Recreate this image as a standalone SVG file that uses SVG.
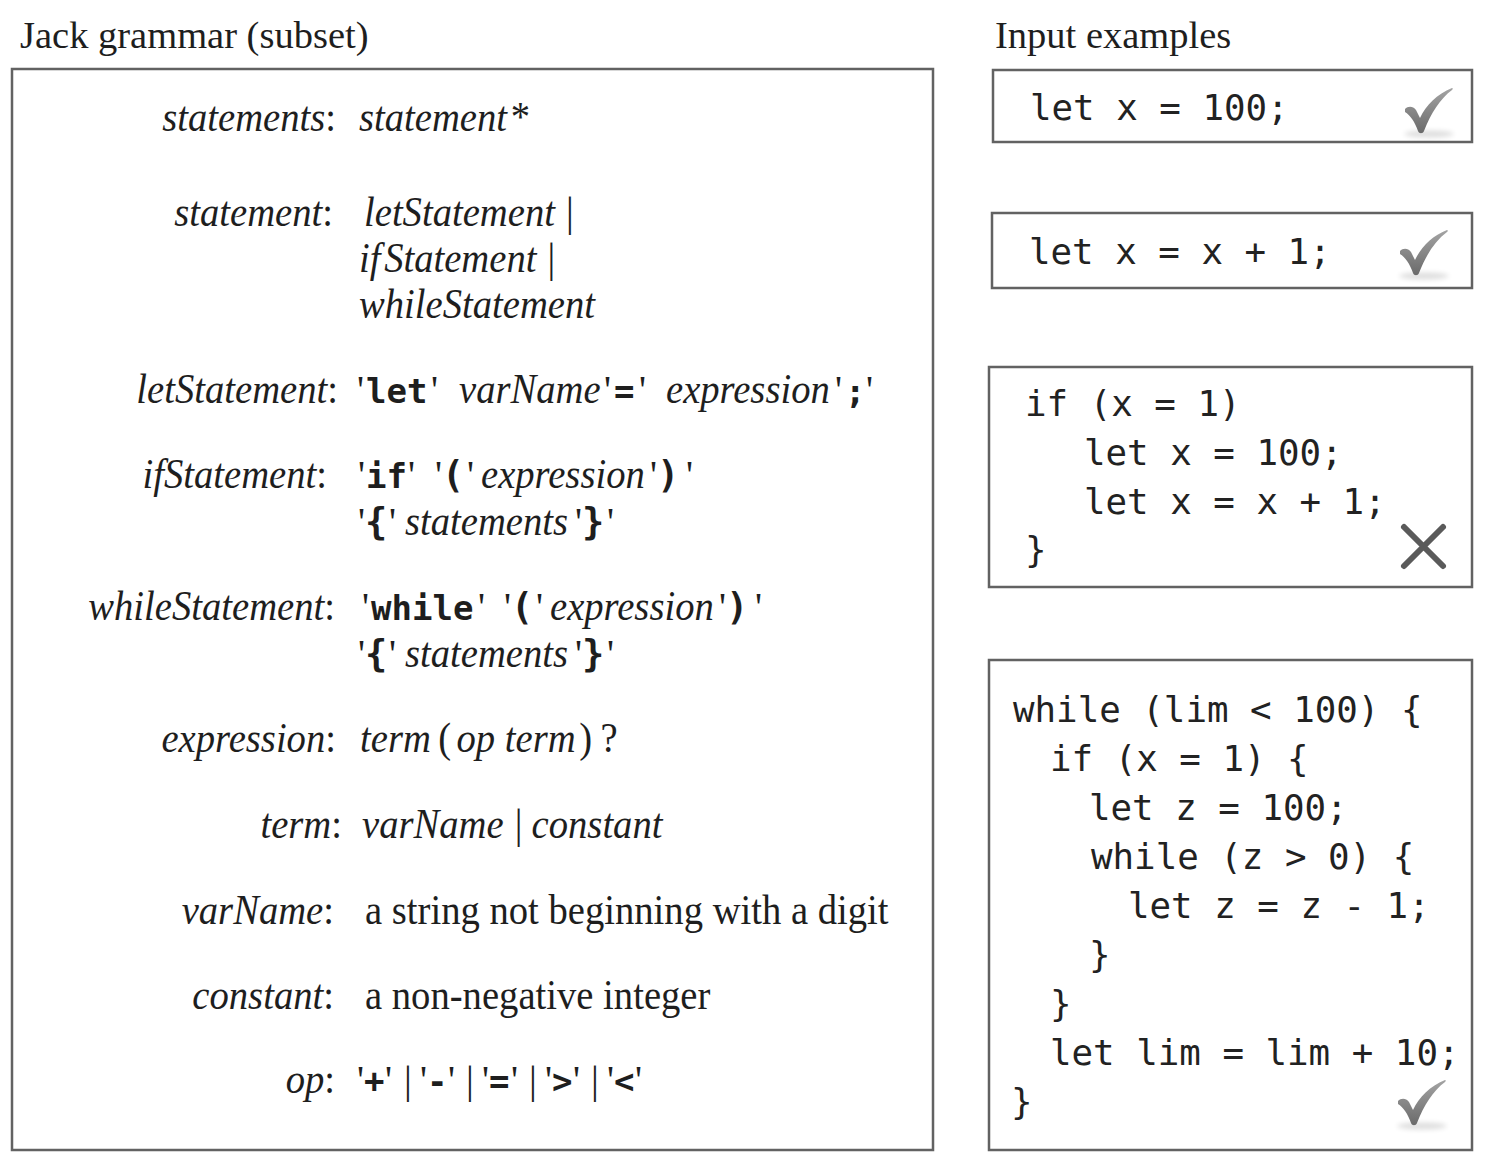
<svg xmlns="http://www.w3.org/2000/svg" width="1492" height="1168" viewBox="0 0 1492 1168">
<style>
.box{fill:#fff;stroke:#626262;stroke-width:2.5}
.hd{font-family:"Liberation Serif",serif;font-size:38.5px;fill:#1e1e1e}
.g{font-family:"Liberation Serif",serif;font-size:42px;fill:#1e1e1e}
.i{font-style:italic}
.q{font-family:"Liberation Serif",serif;font-size:39px;font-weight:normal}
.t{fill:#1e1e1e}
.k{font-family:"DejaVu Sans Mono",monospace;font-weight:bold;font-size:34px}
.p{font-family:"DejaVu Sans Mono",monospace;font-weight:bold;font-size:37px}
.c{font-family:"DejaVu Sans Mono",monospace;font-size:35.8px;fill:#222}
.chk{fill:url(#cg)}
</style>
<defs>
<linearGradient id="cg" x1="0" y1="0" x2="0" y2="1">
<stop offset="0" stop-color="#a4a4a4"/>
<stop offset="1" stop-color="#6a6a6a"/>
</linearGradient>
<filter id="bl" x="-30%" y="-200%" width="160%" height="500%"><feGaussianBlur stdDeviation="2.5"/></filter>
<g id="check">
<ellipse cx="24" cy="46" rx="25" ry="3.5" fill="#000" opacity="0.13" filter="url(#bl)"/>
<path class="chk" d="M0,21 C3,18 8,18 11,22 L15,30 C21,17 32,6 47,0 C48,0 48,1 47,2 C35,11 26,25 19,43 C18,46 14,46 13,43 C10,34 5,27 0,24 Z"/>
</g>
</defs>
<rect width="1492" height="1168" fill="#fff"/>

<text class="hd" x="20" y="48">Jack grammar (subset)</text>
<text class="hd" x="995" y="48">Input examples</text>

<g id="grammar">
<rect class="box" x="12" y="69" width="921" height="1081"/>

<g id="r-statements">
<text class="g" text-anchor="end" transform="translate(336 131) scale(.92 1)"><tspan class="i">statements</tspan>:</text>
<text class="g i" transform="translate(359 131) scale(.92 1)">statement<tspan font-style="normal" dx="4">*</tspan></text>
</g>

<g id="r-statement">
<text class="g" text-anchor="end" transform="translate(333 226) scale(.92 1)"><tspan class="i">statement</tspan>:</text>
<text class="g i" transform="translate(364 226) scale(.92 1)">letStatement<tspan font-style="normal" dx="12">|</tspan></text>
<text class="g i" transform="translate(359 272) scale(.92 1)">if<tspan dx="4">Statement</tspan><tspan font-style="normal" dx="12">|</tspan></text>
<text class="g i" transform="translate(359 318) scale(.92 1)">whileStatement</text>
</g>

<g id="r-let">
<text class="g" text-anchor="end" transform="translate(338 403) scale(.92 1)"><tspan class="i">letStatement</tspan>:</text>
<text class="t" y="403"><tspan class="q" x="357">'</tspan><tspan class="k" x="366">let</tspan><tspan class="q" x="431">'</tspan></text>
<text class="g i" transform="translate(459 403) scale(.92 1)">varName</text>
<text class="t" y="403"><tspan class="q" x="604">'</tspan><tspan class="k" x="614">=</tspan><tspan class="q" x="639">'</tspan></text>
<text class="g i" transform="translate(666 403) scale(.92 1)">expression</text>
<text class="t" y="403"><tspan class="q" x="835">'</tspan><tspan class="k" x="845">;</tspan><tspan class="q" x="866">'</tspan></text>
</g>

<g id="r-if">
<text class="g" text-anchor="end" transform="translate(327 488) scale(.92 1)"><tspan class="i">ifStatement</tspan>:</text>
<text class="t" y="488"><tspan class="q" x="358">'</tspan><tspan class="k" x="366">if</tspan><tspan class="q" x="408">'</tspan></text>
<text class="t" y="488"><tspan class="q" x="435">'</tspan><tspan class="p" x="442">(</tspan><tspan class="q" x="467">'</tspan></text>
<text class="g i" transform="translate(481 488) scale(.92 1)">expression</text>
<text class="t" y="488"><tspan class="q" x="650">'</tspan><tspan class="p" x="657">)</tspan><tspan class="q" x="686">'</tspan></text>
<text class="t" y="535"><tspan class="q" x="358">'</tspan><tspan class="p" x="365">{</tspan><tspan class="q" x="389">'</tspan></text>
<text class="g i" transform="translate(405 535) scale(.92 1)">statements</text>
<text class="t" y="535"><tspan class="q" x="575">'</tspan><tspan class="p" x="582">}</tspan><tspan class="q" x="607">'</tspan></text>
</g>

<g id="r-while">
<text class="g" text-anchor="end" transform="translate(335 620) scale(.92 1)"><tspan class="i">whileStatement</tspan>:</text>
<text class="t" y="620"><tspan class="q" x="362">'</tspan><tspan class="k" x="371">while</tspan><tspan class="q" x="478">'</tspan></text>
<text class="t" y="620"><tspan class="q" x="504">'</tspan><tspan class="p" x="511">(</tspan><tspan class="q" x="536">'</tspan></text>
<text class="g i" transform="translate(550 620) scale(.92 1)">expression</text>
<text class="t" y="620"><tspan class="q" x="719">'</tspan><tspan class="p" x="726">)</tspan><tspan class="q" x="755">'</tspan></text>
<text class="t" y="667"><tspan class="q" x="358">'</tspan><tspan class="p" x="365">{</tspan><tspan class="q" x="389">'</tspan></text>
<text class="g i" transform="translate(405 667) scale(.92 1)">statements</text>
<text class="t" y="667"><tspan class="q" x="575">'</tspan><tspan class="p" x="582">}</tspan><tspan class="q" x="607">'</tspan></text>
</g>

<g id="r-expression">
<text class="g" text-anchor="end" transform="translate(336 752) scale(.92 1)"><tspan class="i">expression</tspan>:</text>
<text class="g i" transform="translate(360 752) scale(.92 1)">term<tspan font-style="normal" dx="8">(</tspan><tspan dx="6">op term</tspan><tspan font-style="normal" dx="4">)</tspan><tspan font-style="normal" dx="9">?</tspan></text>
</g>

<g id="r-term">
<text class="g" text-anchor="end" transform="translate(342 838) scale(.92 1)"><tspan class="i">term</tspan>:</text>
<text class="g i" transform="translate(362 838) scale(.92 1)">varName<tspan font-style="normal" dx="12">|</tspan><tspan dx="10">constant</tspan></text>
</g>

<g id="r-varname">
<text class="g" text-anchor="end" transform="translate(334 924) scale(.92 1)"><tspan class="i">varName</tspan>:</text>
<text class="g" transform="translate(365 924) scale(.92 1)">a string not beginning with a digit</text>
</g>

<g id="r-constant">
<text class="g" text-anchor="end" transform="translate(334 1009) scale(.92 1)"><tspan class="i">constant</tspan>:</text>
<text class="g" transform="translate(365 1009) scale(.92 1)">a non-negative integer</text>
</g>

<g id="r-op">
<text class="g" text-anchor="end" transform="translate(335 1093) scale(.92 1)"><tspan class="i">op</tspan>:</text>
<text class="t" y="1093"><tspan class="q" x="357">'</tspan><tspan class="k" x="364">+</tspan><tspan class="q" x="385">'</tspan><tspan class="q" x="404">|</tspan><tspan class="q" x="420">'</tspan><tspan class="k" x="427">-</tspan><tspan class="q" x="448">'</tspan><tspan class="q" x="466">|</tspan><tspan class="q" x="482">'</tspan><tspan class="k" x="489">=</tspan><tspan class="q" x="511">'</tspan><tspan class="q" x="529">|</tspan><tspan class="q" x="545">'</tspan><tspan class="k" x="552">&gt;</tspan><tspan class="q" x="573">'</tspan><tspan class="q" x="591">|</tspan><tspan class="q" x="607">'</tspan><tspan class="k" x="614">&lt;</tspan><tspan class="q" x="635">'</tspan></text>
</g>
</g>

<g id="ex1">
<rect class="box" x="993" y="70" width="479" height="72"/>
<text class="c" x="1030" y="120">let x = 100;</text>
<use href="#check" x="1405" y="88"/>
</g>

<g id="ex2">
<rect class="box" x="992" y="213" width="480" height="75"/>
<text class="c" x="1029" y="264">let x = x + 1;</text>
<use href="#check" x="1400" y="230"/>
</g>

<g id="ex3">
<rect class="box" x="989" y="367" width="483" height="220"/>
<text class="c" x="1025" y="416">if (x = 1)</text>
<text class="c" x="1084" y="465">let x = 100;</text>
<text class="c" x="1084" y="514">let x = x + 1;</text>
<text class="c" x="1025" y="562">}</text>
<path d="M1404,527 L1443,566 M1443,527 L1404,566" stroke="#5a5a5a" stroke-width="6" stroke-linecap="round" fill="none"/>
</g>

<g id="ex4">
<rect class="box" x="989" y="660" width="483" height="490"/>
<text class="c" x="1013" y="722">while (lim &lt; 100) {</text>
<text class="c" x="1050" y="771">if (x = 1) {</text>
<text class="c" x="1089" y="820">let z = 100;</text>
<text class="c" x="1091" y="869">while (z &gt; 0) {</text>
<text class="c" x="1128" y="918">let z = z - 1;</text>
<text class="c" x="1089" y="967">}</text>
<text class="c" x="1050" y="1016">}</text>
<text class="c" x="1050" y="1065">let lim = lim + 10;</text>
<text class="c" x="1011" y="1114">}</text>
<use href="#check" x="1398" y="1080"/>
</g>

<g id="connectors"/>
</svg>
